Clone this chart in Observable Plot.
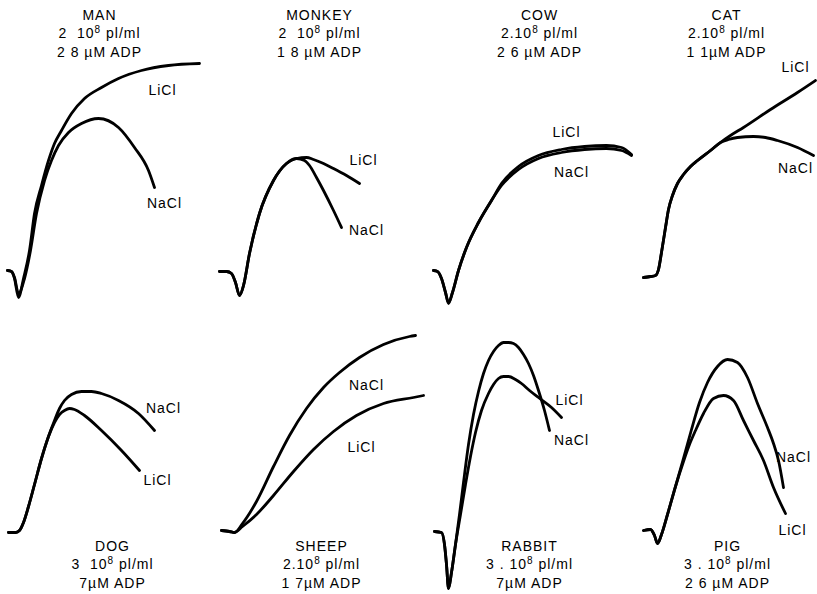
<!DOCTYPE html>
<html>
<head>
<meta charset="utf-8">
<script src="https://cdn.jsdelivr.net/npm/d3@7"></script>
<script src="https://cdn.jsdelivr.net/npm/@observablehq/plot@0.6"></script>
<style>
  html, body { margin: 0; padding: 0; background: #fff; }
  #chart svg text { letter-spacing: 1px; }
</style>
</head>
<body>
<div id="chart"></div>
<script>
// Panels (species) with their platelet counts and ADP doses
const species = ["MAN", "MONKEY", "COW", "CAT", "DOG", "SHEEP", "RABBIT", "PIG"];
const plateletCounts = ["2  10⁸ pl/ml", "2  10⁸ pl/ml", "2.10⁸ pl/ml", "2.10⁸ pl/ml",
                        "3  10⁸ pl/ml", "2.10⁸ pl/ml", "3 . 10⁸ pl/ml", "3 . 10⁸ pl/ml"];
const adpDoses = ["2 8 µM ADP", "1 8 µM ADP", "2 6 µM ADP", "1 1µM ADP",
                  "7µM ADP", "1 7µM ADP", "7µM ADP", "2 6 µM ADP"];
const salts = ["LiCl", "NaCl"];

// Aggregation traces: [time, light transmission] in panel units
const manLiCl = [[6,27],[10,26],[13,19],[17,0],[22,19],[28,47],[33,84],[40,112],[47,137],[53,154],[60,167],[70,184],[83,199],[100,210],[117,219],[140,227],[167,232],[198,234]];
const manNaCl = [[6,27],[10,26],[13,20],[17,4],[23,19],[29,47],[35,84],[43,117],[50,137],[57,152],[67,165],[80,174],[97,179],[117,170],[133,150],[147,127],[153,110]];
const monkeyLiCl = [[14,26],[21,26],[26,24],[30,15],[34,2],[38,12],[44,44],[54,84],[68,117],[81,134],[91,139],[101,140],[108,138],[118,134],[128,129],[141,122],[154,114]];
const monkeyNaCl = [[14,26],[21,26],[26,24],[30,15],[34,2],[38,12],[44,44],[54,84],[68,117],[81,134],[91,139],[99,137],[104,132],[111,120],[118,107],[128,87],[136,70]];
const cowLiCl = [[24,27],[28,26],[32,19],[36,5],[39,-6],[43,5],[49,27],[57,50],[69,75],[82,97],[92,114],[109,131],[129,142],[152,148],[175,151],[197,152],[212,150],[222,143]];
const cowNaCl = [[24,27],[28,26],[32,19],[36,5],[39,-5],[43,5],[49,27],[57,50],[69,75],[82,97],[92,112],[109,128],[129,139],[152,145],[175,148],[197,149],[212,147],[222,142]];
const catLiCl = [[30,20],[37,21],[42,22],[45,28],[48,45],[52,70],[55,88],[59,102],[64,114],[70,123],[77,131],[84,137],[97,147],[107,155],[117,162],[130,170],[157,188],[184,205],[202,217]];
const catNaCl = [[30,20],[37,21],[42,22],[45,28],[48,45],[52,70],[55,88],[59,102],[64,114],[70,123],[77,131],[84,137],[97,147],[107,155],[115,158],[124,160],[140,161],[152,160],[164,157],[184,150],[200,142]];
const dogLiCl = [[7,62],[14,62],[18,64],[22,72],[27,88],[33,110],[40,136],[47,158],[53,172],[58,180],[63,184],[68,186],[73,185],[83,179],[100,164],[120,144],[138,124]];
const dogNaCl = [[7,62],[14,62],[18,64],[22,72],[27,88],[33,110],[40,136],[47,158],[53,174],[58,186],[63,194],[70,200],[80,203],[90,203],[100,201],[117,194],[137,181],[153,164]];
const sheepLiCl = [[16,64],[24,63],[29,62],[37,68],[51,80],[68,99],[88,123],[108,145],[128,163],[151,179],[178,191],[208,197],[218,199]];
const sheepNaCl = [[16,64],[24,63],[29,62],[37,71],[51,93],[68,128],[84,159],[101,186],[118,207],[134,222],[154,237],[178,250],[204,258],[210,259]];
const rabbitLiCl = [[25,63],[32,62],[35,50],[37,30],[39,6],[42,22],[46,50],[51,80],[56,110],[61,138],[66,162],[72,184],[79,201],[84,210],[89,216],[94,218],[99,218],[106,215],[112,211],[120,204],[129,197],[142,187],[152,177]];
const rabbitNaCl = [[25,63],[32,62],[35,50],[37,30],[39,6],[42,22],[46,50],[50,80],[54,112],[59,150],[64,180],[69,203],[74,221],[79,234],[84,243],[89,249],[94,252],[99,252],[104,251],[109,247],[114,240],[119,231],[124,219],[129,204],[135,184],[140,164]];
const pigLiCl = [[30,64],[37,65],[41,59],[44,51],[48,60],[54,80],[62,108],[70,133],[76,150],[82,164],[90,181],[100,196],[110,199],[120,194],[130,174],[140,154],[150,134],[160,107],[172,81]];
const pigNaCl = [[30,64],[37,65],[41,59],[44,51],[48,60],[54,80],[62,108],[70,136],[78,165],[86,192],[94,212],[104,228],[114,235],[124,232],[134,217],[144,191],[154,167],[160,151],[165,134],[170,107]];

const traces = [
  [manLiCl, manNaCl], [monkeyLiCl, monkeyNaCl], [cowLiCl, cowNaCl], [catLiCl, catNaCl],
  [dogLiCl, dogNaCl], [sheepLiCl, sheepNaCl], [rabbitLiCl, rabbitNaCl], [pigLiCl, pigNaCl]
];

// Salt label anchors: [LiCl x, LiCl y, NaCl x, NaCl y] per panel
const saltLabelAt = [
  [161,207, 163,94], [158,137, 161,67], [157,165, 162,125], [182,230, 182,129],
  [156,114, 162,186], [156,147, 161,209], [160,194, 162,154], [179,64, 180,137]
];
// Caption centre per panel (x) and per row (y)
const captionX = [98, 114, 130, 113, 111, 116, 120, 114];
const captionY = [265, 31];

// ---- build tables ----
const lineRows = [];
traces.forEach((pair, i) => {
  pair.forEach((pts, s) => {
    pts.forEach(([t, v]) => lineRows.push({
      key: species[i] + "-" + salts[s], t, v, col: i % 4, row: Math.floor(i / 4)
    }));
  });
});
const saltLabels = [];
saltLabelAt.forEach((a, i) => {
  salts.forEach((s, k) => saltLabels.push({
    text: s, t: a[2 * k], v: a[2 * k + 1], col: i % 4, row: Math.floor(i / 4)
  }));
});
const captions = species.map((name, i) => ({
  text: name + "\n" + plateletCounts[i] + "\n" + adpDoses[i],
  t: captionX[i], v: captionY[Math.floor(i / 4)], col: i % 4, row: Math.floor(i / 4)
}));

const font = "'Liberation Sans', Arial, Helvetica, sans-serif";

const chart = Plot.plot({
  width: 817,
  height: 594,
  margin: 0,
  style: { background: "#fff", fontFamily: font },
  fx: { domain: [0, 1, 2, 3], padding: 0, axis: null },
  fy: { domain: [0, 1], padding: 0, axis: null },
  x: { domain: [0, 204], axis: null },
  y: { domain: [0, 297], axis: null },
  marks: [
    Plot.line(lineRows, {
      x: "t", y: "v", z: "key", fx: "col", fy: "row",
      curve: "monotone-x", stroke: "#000", strokeWidth: 2.8,
      strokeLinejoin: "round", strokeLinecap: "round"
    }),
    Plot.text(saltLabels, {
      x: "t", y: "v", text: "text", fx: "col", fy: "row",
      fontSize: 14, fill: "#000", fontFamily: font
    }),
    Plot.text(captions, {
      x: "t", y: "v", text: "text", fx: "col", fy: "row",
      fontSize: 14, lineHeight: 1.3, fill: "#000", fontFamily: font
    })
  ]
});

// render the exponent of "10⁸" as a raised, smaller 8
chart.querySelectorAll("text tspan, text").forEach(node => {
  if (node.childElementCount === 0 && node.textContent.includes("⁸")) {
    const [before, after] = node.textContent.split("⁸");
    node.textContent = before;
    const sup = document.createElementNS("http://www.w3.org/2000/svg", "tspan");
    sup.setAttribute("baseline-shift", "super");
    sup.setAttribute("font-size", "10");
    sup.textContent = "8";
    const rest = document.createElementNS("http://www.w3.org/2000/svg", "tspan");
    rest.textContent = after;
    node.appendChild(sup);
    node.appendChild(rest);
  }
});
document.getElementById("chart").appendChild(chart);
</script>
</body>
</html>
